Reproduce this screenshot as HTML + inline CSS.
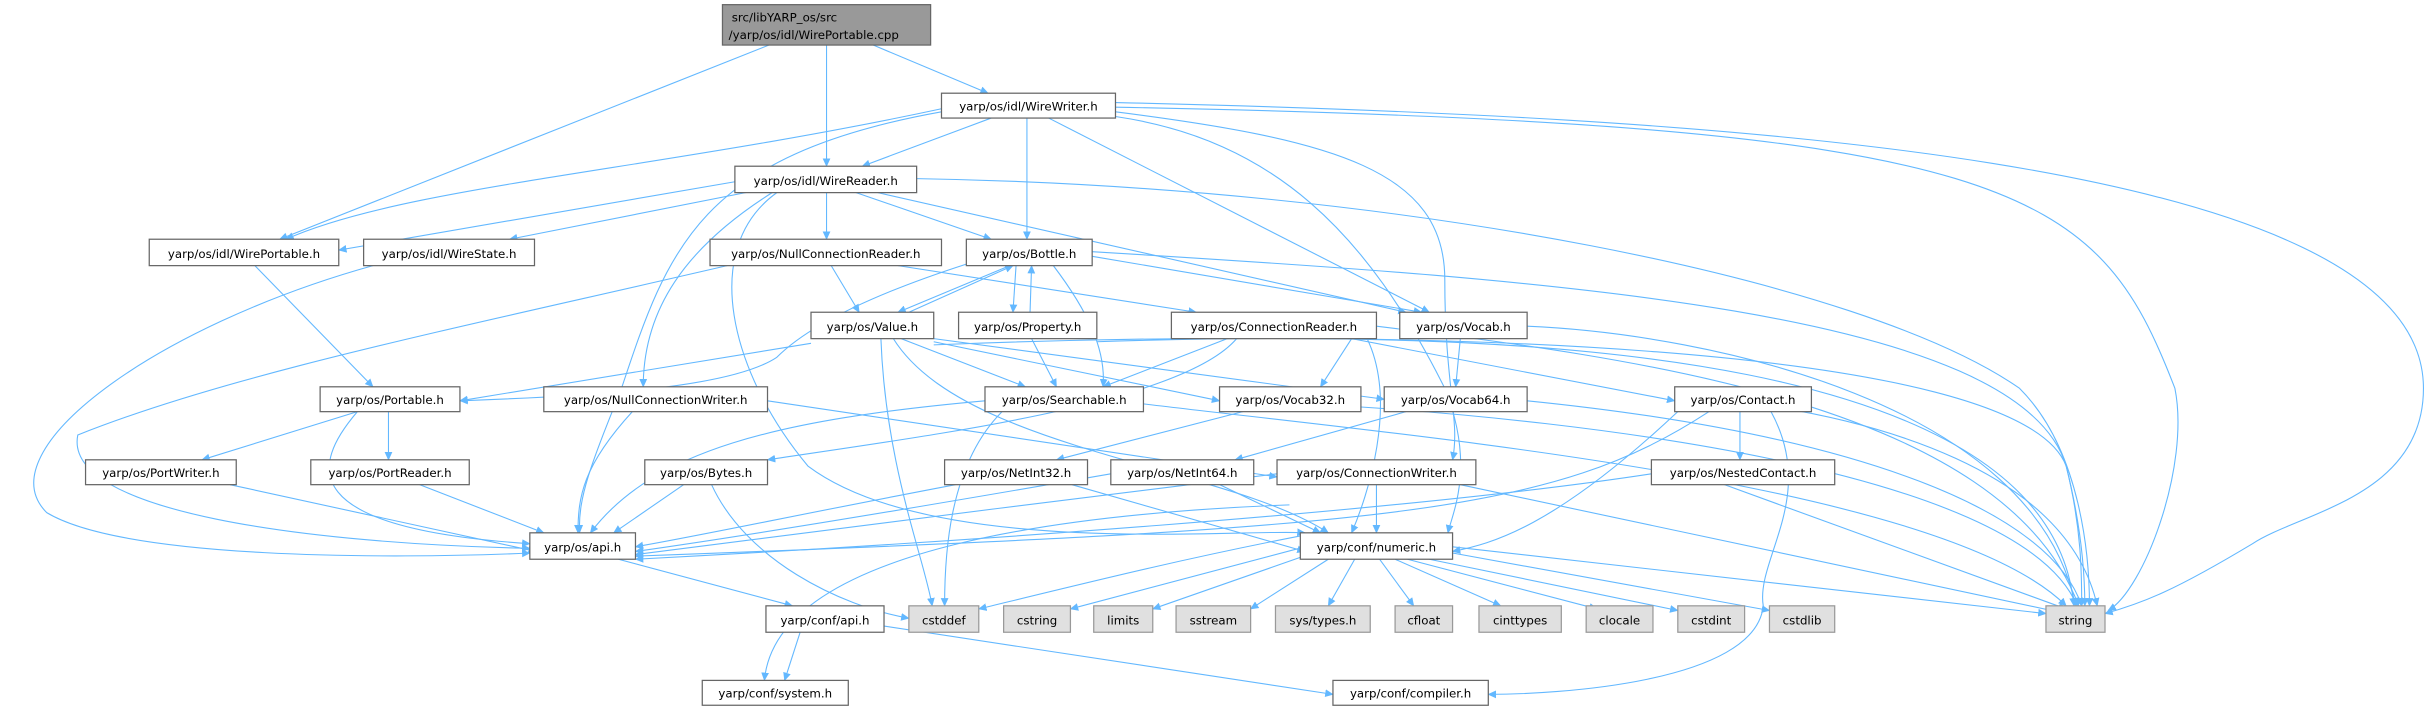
<!DOCTYPE html>
<html><head><meta charset="utf-8"><style>
html,body{margin:0;padding:0;background:#fff;}
svg{display:block}
text{font-family:"DejaVu Sans","Liberation Sans",sans-serif;font-size:7.6px;fill:#000;text-anchor:middle}
.n{fill:#fff;stroke:#666;stroke-width:0.8}
.g{fill:#e0e0e0;stroke:#999;stroke-width:0.8}
.e path{fill:none;stroke:#63b8ff;stroke-width:0.7}
</style></head><body>
<svg width="2436" height="711" viewBox="0 0 1568 457.7" xmlns="http://www.w3.org/2000/svg">
<defs><marker id="a" markerWidth="6" markerHeight="6" refX="5" refY="3" orient="auto" markerUnits="userSpaceOnUse"><path d="M0,0.5 L5.5,3 L0,5.5z" fill="#63b8ff"/></marker></defs>
<g class="e" marker-end="url(#a)">
<path d="M495,29 L180,154"/>
<path d="M532,29 L532,107"/>
<path d="M562,29 L636,60"/>
<path d="M638,76 L555,107"/>
<path d="M606,70 C420,110 260,120 184,154"/>
<path d="M606,72 C450,100 430,160 400,250 C380,300 372,320 373,343"/>
<path d="M661,76 L661,154"/>
<path d="M675,76 L920,201"/>
<path d="M718,72 C860,90 930,110 930,180 C930,250 940,270 935,296"/>
<path d="M718,75 C820,90 880,150 930,250 C950,300 935,330 932,343"/>
<path d="M718,66 C1100,75 1560,100 1560,250 C1560,320 1480,330 1450,350 C1400,380 1380,388 1355,395"/>
<path d="M718,69 C1300,80 1350,120 1400,250 C1410,300 1380,380 1357,393"/>
<path d="M473,117 L218,161"/>
<path d="M490,122 L328,154"/>
<path d="M532,124 L532,154"/>
<path d="M551,124 L638,154"/>
<path d="M565,124 L905,201"/>
<path d="M590,115 C900,120 1200,180 1300,250 C1340,290 1345,360 1345,390"/>
<path d="M497,124 C440,160 414,200 414,249"/>
<path d="M500,124 C450,160 470,240 520,300 C600,360 800,340 840,343"/>
<path d="M164,171 L240,249"/>
<path d="M240,171 C100,210 -10,290 30,330 C80,360 250,360 341,356"/>
<path d="M468,171 C300,210 150,240 50,280 C40,330 200,350 341,353"/>
<path d="M535,171 L553,201"/>
<path d="M578,171 L770,201"/>
<path d="M650,171 L578,201"/>
<path d="M585,201 L652,171"/>
<path d="M654,171 L652,201"/>
<path d="M663,201 L664,171"/>
<path d="M622,170 C560,190 520,210 500,230 C470,250 380,255 296,258"/>
<path d="M678,171 C700,200 712,225 710,249"/>
<path d="M703,165 L915,201"/>
<path d="M703,162 C1000,180 1300,200 1330,300 C1340,340 1342,370 1342,390"/>
<path d="M522,221 L296,258"/>
<path d="M580,218 L660,249"/>
<path d="M601,220 L785,258"/>
<path d="M601,218 L891,257"/>
<path d="M567,218 C570,300 595,360 600,390"/>
<path d="M575,218 C620,290 790,300 855,343"/>
<path d="M601,222 C900,210 1300,220 1330,300 C1340,340 1340,370 1340,390"/>
<path d="M664,218 L680,249"/>
<path d="M706,220 C1000,210 1320,230 1335,390"/>
<path d="M790,218 L710,249"/>
<path d="M796,218 C760,260 600,280 494,296"/>
<path d="M870,218 L1078,258"/>
<path d="M880,218 C900,260 880,320 870,343"/>
<path d="M886,210 C1050,230 1290,260 1338,390"/>
<path d="M870,218 L850,249"/>
<path d="M940,218 L937,249"/>
<path d="M983,210 C1100,215 1310,260 1336,390"/>
<path d="M230,265 L130,296"/>
<path d="M250,265 L250,296"/>
<path d="M230,265 C200,300 190,340 341,350"/>
<path d="M634,258 C500,270 420,290 380,343"/>
<path d="M645,265 C610,300 608,360 608,390"/>
<path d="M736,260 C900,280 1250,310 1330,390"/>
<path d="M407,265 C375,300 372,320 372,343"/>
<path d="M494,258 L822,307"/>
<path d="M148,312 L345,355"/>
<path d="M270,312 L350,343"/>
<path d="M440,312 L395,343"/>
<path d="M458,312 C480,360 540,390 585,398"/>
<path d="M615,312 C520,330 450,345 409,352"/>
<path d="M690,312 L840,355"/>
<path d="M715,305 C600,325 480,345 409,355"/>
<path d="M785,312 L850,343"/>
<path d="M800,265 L680,296"/>
<path d="M905,265 L795,296"/>
<path d="M876,262 C1000,270 1300,300 1337,390"/>
<path d="M983,258 C1200,280 1320,330 1340,390"/>
<path d="M822,305 C700,320 500,345 409,357"/>
<path d="M886,312 L886,343"/>
<path d="M940,312 L1330,395"/>
<path d="M1120,265 L1120,296"/>
<path d="M1100,265 C1000,330 900,340 409,358"/>
<path d="M1130,260 C1200,270 1330,300 1350,390"/>
<path d="M1140,265 C1170,320 1130,360 1135,390 C1130,440 1000,447 958,447"/>
<path d="M1063,305 C900,330 600,350 409,360"/>
<path d="M1110,312 L1330,392"/>
<path d="M1080,265 C1000,340 960,350 935,355"/>
<path d="M398,360 L510,390"/>
<path d="M515,407 L505,438"/>
<path d="M569,403 L858,447"/>
<path d="M837,345 C760,360 700,375 630,392"/>
<path d="M840,352 L689,392"/>
<path d="M845,356 L742,392"/>
<path d="M855,360 L805,392"/>
<path d="M872,360 L855,390"/>
<path d="M888,360 L910,390"/>
<path d="M898,360 L966,390"/>
<path d="M906,360 L1028,392"/>
<path d="M920,360 L1080,393"/>
<path d="M935,356 L1139,393"/>
<path d="M935,352 L1317,395"/>
<path d="M830,325 C700,330 500,350 492,438"/>
</g>
<g>
<rect x="465" y="3" width="134" height="26" fill="#999" stroke="#666" stroke-width="0.8"/>
<text x="471" y="14" style="text-anchor:start">src/libYARP_os/src</text>
<text x="469" y="25" style="text-anchor:start">/yarp/os/idl/WirePortable.cpp</text>
<rect class="n" x="606" y="60" width="112" height="16"/><text x="662" y="71">yarp/os/idl/WireWriter.h</text>
<rect class="n" x="473" y="107" width="117" height="17"/><text x="531.5" y="119">yarp/os/idl/WireReader.h</text>
<rect class="n" x="96" y="154" width="122" height="17"/><text x="157" y="166">yarp/os/idl/WirePortable.h</text>
<rect class="n" x="234" y="154" width="110" height="17"/><text x="289" y="166">yarp/os/idl/WireState.h</text>
<rect class="n" x="457" y="154" width="149" height="17"/><text x="531.5" y="166">yarp/os/NullConnectionReader.h</text>
<rect class="n" x="622" y="154" width="81" height="17"/><text x="662.5" y="166">yarp/os/Bottle.h</text>
<rect class="n" x="522" y="201" width="79" height="17"/><text x="561.5" y="213">yarp/os/Value.h</text>
<rect class="n" x="617" y="201" width="89" height="17"/><text x="661.5" y="213">yarp/os/Property.h</text>
<rect class="n" x="754" y="201" width="132" height="17"/><text x="820" y="213">yarp/os/ConnectionReader.h</text>
<rect class="n" x="901" y="201" width="82" height="17"/><text x="942" y="213">yarp/os/Vocab.h</text>
<rect class="n" x="206" y="249" width="90" height="16"/><text x="251" y="260">yarp/os/Portable.h</text>
<rect class="n" x="350" y="249" width="144" height="16"/><text x="422" y="260">yarp/os/NullConnectionWriter.h</text>
<rect class="n" x="634" y="249" width="102" height="16"/><text x="685" y="260">yarp/os/Searchable.h</text>
<rect class="n" x="785" y="249" width="91" height="16"/><text x="830.5" y="260">yarp/os/Vocab32.h</text>
<rect class="n" x="891" y="249" width="92" height="16"/><text x="937" y="260">yarp/os/Vocab64.h</text>
<rect class="n" x="1078" y="249" width="88" height="16"/><text x="1122" y="260">yarp/os/Contact.h</text>
<rect class="n" x="55" y="296" width="97" height="16"/><text x="103.5" y="307">yarp/os/PortWriter.h</text>
<rect class="n" x="200" y="296" width="102" height="16"/><text x="251" y="307">yarp/os/PortReader.h</text>
<rect class="n" x="415" y="296" width="79" height="16"/><text x="454.5" y="307">yarp/os/Bytes.h</text>
<rect class="n" x="608" y="296" width="92" height="16"/><text x="654" y="307">yarp/os/NetInt32.h</text>
<rect class="n" x="715" y="296" width="92" height="16"/><text x="761" y="307">yarp/os/NetInt64.h</text>
<rect class="n" x="822" y="296" width="128" height="16"/><text x="886" y="307">yarp/os/ConnectionWriter.h</text>
<rect class="n" x="1063" y="296" width="118" height="16"/><text x="1122" y="307">yarp/os/NestedContact.h</text>
<rect class="n" x="341" y="343" width="68" height="17"/><text x="375" y="355">yarp/os/api.h</text>
<rect class="n" x="837" y="343" width="98" height="17"/><text x="886" y="355">yarp/conf/numeric.h</text>
<rect class="n" x="493" y="390" width="76" height="17"/><text x="531" y="402">yarp/conf/api.h</text>
<rect class="g" x="585" y="390" width="45" height="17"/><text x="607.5" y="402">cstddef</text>
<rect class="g" x="646" y="390" width="43" height="17"/><text x="667.5" y="402">cstring</text>
<rect class="g" x="704" y="390" width="38" height="17"/><text x="723" y="402">limits</text>
<rect class="g" x="757" y="390" width="48" height="17"/><text x="781" y="402">sstream</text>
<rect class="g" x="821" y="390" width="61" height="17"/><text x="851.5" y="402">sys/types.h</text>
<rect class="g" x="898" y="390" width="37" height="17"/><text x="916.5" y="402">cfloat</text>
<rect class="g" x="952" y="390" width="53" height="17"/><text x="978.5" y="402">cinttypes</text>
<rect class="g" x="1021" y="390" width="43" height="17"/><text x="1042.5" y="402">clocale</text>
<rect class="g" x="1080" y="390" width="43" height="17"/><text x="1101.5" y="402">cstdint</text>
<rect class="g" x="1139" y="390" width="42" height="17"/><text x="1160" y="402">cstdlib</text>
<rect class="g" x="1317" y="390" width="38" height="17"/><text x="1336" y="402">string</text>
<rect class="n" x="452" y="438" width="94" height="16"/><text x="499" y="449">yarp/conf/system.h</text>
<rect class="n" x="858" y="438" width="100" height="16"/><text x="908" y="449">yarp/conf/compiler.h</text>
</g>
</svg>
</body></html>
